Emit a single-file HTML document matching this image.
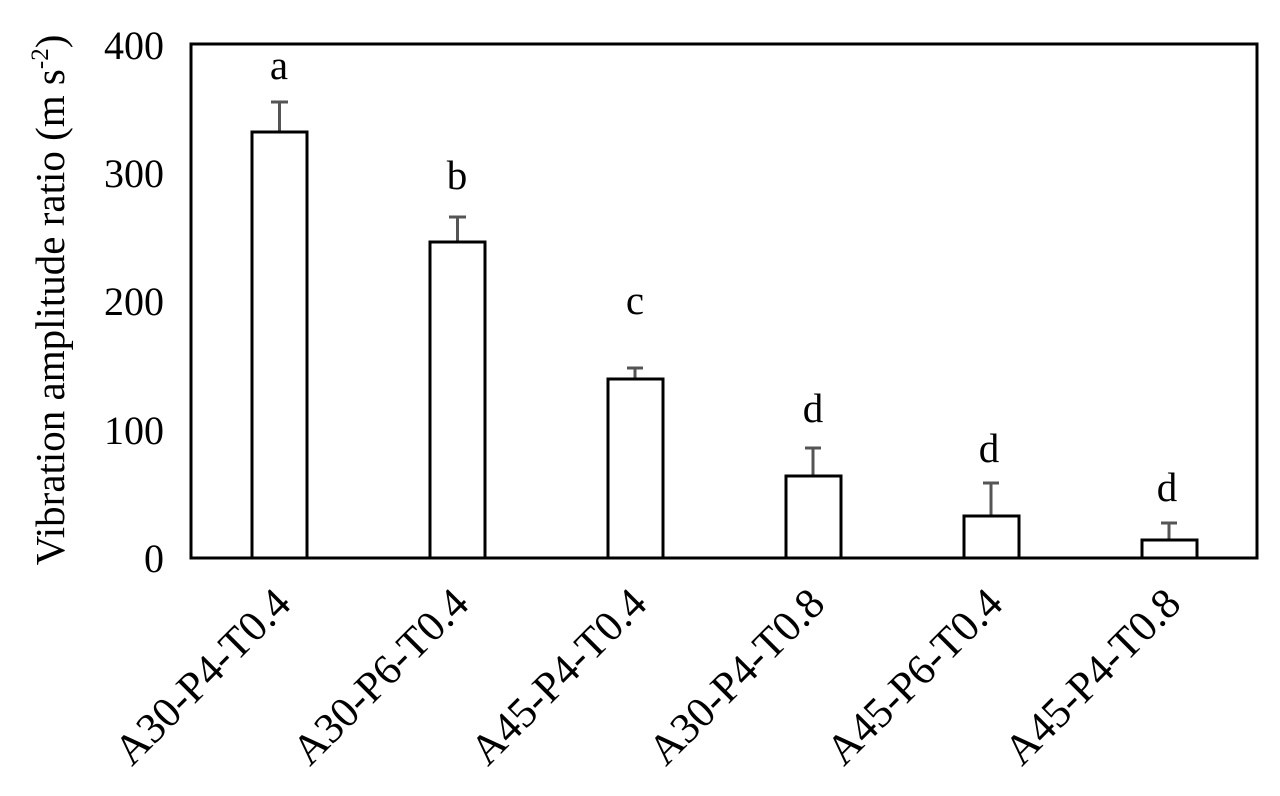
<!DOCTYPE html>
<html><head><meta charset="utf-8"><style>body{margin:0;background:#fff}</style></head><body>
<svg width="1280" height="791" xmlns="http://www.w3.org/2000/svg" font-family="Liberation Serif, serif">
<rect x="191" y="44" width="1066" height="514" fill="none" stroke="#000" stroke-width="3"/>
<g font-size="40" text-anchor="end" fill="#000">
<text x="164" y="572">0</text>
<text x="164" y="444">100</text>
<text x="164" y="315">200</text>
<text x="164" y="187">300</text>
<text x="164" y="59">400</text>
</g>
<text transform="translate(64,300) rotate(-90)" font-size="41" text-anchor="middle">Vibration amplitude ratio (m s<tspan font-size="25" dy="-16">-2</tspan><tspan dy="16">)</tspan></text>
<g stroke="#555" stroke-width="3">
<line x1="279.5" y1="133" x2="279.5" y2="102"/><line x1="271" y1="102" x2="288" y2="102"/>
<line x1="457.5" y1="242" x2="457.5" y2="217"/><line x1="449" y1="217" x2="466" y2="217"/>
<line x1="635" y1="379" x2="635" y2="368"/><line x1="627" y1="368" x2="643" y2="368"/>
<line x1="813" y1="476" x2="813" y2="448"/><line x1="805" y1="448" x2="821" y2="448"/>
<line x1="991" y1="516" x2="991" y2="483"/><line x1="983" y1="483" x2="999" y2="483"/>
<line x1="1169" y1="540" x2="1169" y2="523"/><line x1="1161" y1="523" x2="1177" y2="523"/>
</g>
<g fill="#fff" stroke="#000" stroke-width="3">
<rect x="252" y="132" width="55" height="426"/>
<rect x="430" y="242" width="55" height="316"/>
<rect x="608" y="379" width="55" height="179"/>
<rect x="786" y="476" width="55" height="82"/>
<rect x="964" y="516" width="55" height="42"/>
<rect x="1142" y="540" width="55" height="18"/>
</g>
<g font-size="41" text-anchor="middle">
<text x="279" y="79">a</text>
<text x="457" y="189">b</text>
<text x="635" y="314">c</text>
<text x="813" y="422">d</text>
<text x="989" y="462">d</text>
<text x="1167" y="501">d</text>
</g>
<g font-size="43" text-anchor="end">
<text transform="translate(293,606) rotate(-45)">A30-P4-T0.4</text>
<text transform="translate(471,606) rotate(-45)">A30-P6-T0.4</text>
<text transform="translate(649,606) rotate(-45)">A45-P4-T0.4</text>
<text transform="translate(827,606) rotate(-45)">A30-P4-T0.8</text>
<text transform="translate(1005,606) rotate(-45)">A45-P6-T0.4</text>
<text transform="translate(1183,606) rotate(-45)">A45-P4-T0.8</text>
</g>
</svg>
</body></html>
